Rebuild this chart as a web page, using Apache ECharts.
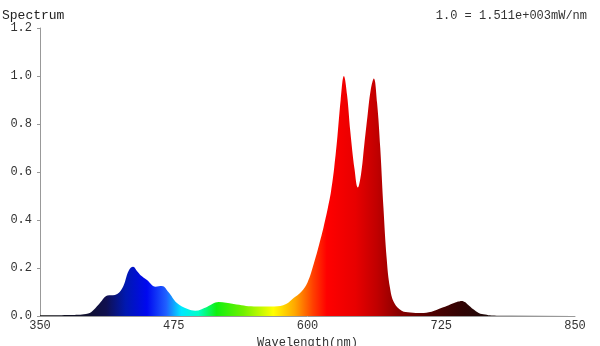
<!DOCTYPE html>
<html>
<head>
<meta charset="utf-8">
<script src="https://cdn.jsdelivr.net/npm/echarts@6/dist/echarts.min.js"></script>
<style>
  html, body { margin: 0; padding: 0; background: #fff; }
  #chart { width: 600px; height: 346px; }
</style>
</head>
<body>
<div id="chart"></div>
<script>
// wavelength (nm) and relative spectrum
const wavelength = [350, 380, 395, 400, 406, 413, 420, 427, 433, 437, 441, 444, 450, 458, 464, 470, 478, 488, 495, 506,
  517, 531, 550, 569, 580, 587, 594, 600, 606, 611, 615, 619, 622, 625, 628, 631, 634, 637, 640, 644, 647, 650, 653,
  656, 659, 662, 665, 668, 671, 674, 677, 681, 688, 696, 706, 716, 725, 732, 737, 741, 744, 747, 750, 755, 760, 766,
  772, 790, 850]
const spectrum = [0.003, 0.004, 0.01, 0.025, 0.054, 0.085, 0.088, 0.117, 0.19, 0.205, 0.185, 0.17, 0.15, 0.122, 0.125,
  0.1, 0.054, 0.029, 0.022, 0.038, 0.058, 0.05, 0.04, 0.04, 0.05, 0.075, 0.1, 0.14, 0.22, 0.3, 0.37, 0.45, 0.52, 0.62,
  0.75, 0.9, 1.0, 0.92, 0.77, 0.61, 0.535, 0.59, 0.71, 0.83, 0.94, 0.99, 0.89, 0.7, 0.45, 0.24, 0.12, 0.055, 0.022,
  0.015, 0.013, 0.018, 0.033, 0.045, 0.054, 0.06, 0.063, 0.058, 0.047, 0.028, 0.013, 0.006, 0.002, 0.001, 0.001]

const xTicks = [350, 475, 600, 725, 850]
const yTicks = [0, 0.2, 0.4, 0.6, 0.8, 1.0, 1.2]

// 波长对应颜色
const colorStops = [
  [350, '#101010'], [395, '#101030'], [412, '#101050'], [430, '#0018b0'], [450, '#0008f0'],
  [468, '#2060ff'], [482, '#00e8ff'], [498, '#00ffc8'], [515, '#10f010'], [540, '#70f000'],
  [568, '#ffff00'], [588, '#ffa800'], [605, '#ff4000'], [618, '#ff0000'], [645, '#e80000'],
  [665, '#c00000'], [685, '#8a0000'], [715, '#500000'], [745, '#300404'], [790, '#101010'], [850, '#101010']
]

const font = 'Liberation Mono, Courier New, monospace'
const fill = new echarts.graphic.LinearGradient(0, 0, 1, 0,
  colorStops.map((s) => ({ offset: (s[0] - 350) / 500, color: s[1] })))

const chart = echarts.init(document.getElementById('chart'))
chart.setOption({
  animation: false,
  title: {
    text: 'Spectrum',
    left: -3,
    top: 4,
    textStyle: { fontFamily: font, fontSize: 13, fontWeight: 'normal', color: '#222' }
  },
  graphic: [
    {
      type: 'text',
      right: 13,
      top: 10,
      style: { text: '1.0 = 1.511e+003mW/nm', font: '12px ' + font, fill: '#333' }
    }
  ],
  grid: { left: 40, right: 25, top: 28, bottom: 30, containLabel: false, outerBoundsMode: 'none' },
  xAxis: {
    type: 'value',
    min: 350,
    max: 850,
    interval: 125,
    name: 'Wavelength(nm)',
    nameLocation: 'middle',
    nameGap: 21,
    nameTextStyle: { fontFamily: font, fontSize: 12, color: '#333' },
    axisLine: { lineStyle: { color: '#999' } },
    axisTick: { show: false },
    splitLine: { show: false },
    axisLabel: {
      fontFamily: font, fontSize: 12, color: '#333', margin: 4,
      formatter: (v) => (xTicks.includes(v) ? String(v) : '')
    }
  },
  yAxis: {
    type: 'value',
    min: 0,
    max: 1.2,
    interval: 0.2,
    axisLine: { show: true, lineStyle: { color: '#999' } },
    axisTick: { show: true, length: 3, lineStyle: { color: '#999' } },
    splitLine: { show: false },
    axisLabel: {
      fontFamily: font, fontSize: 12, color: '#333', margin: 8,
      formatter: (v) => (yTicks.some((t) => Math.abs(t - v) < 1e-6) ? v.toFixed(1) : '')
    }
  },
  series: [
    {
      type: 'line',
      data: wavelength.map((w, i) => [w, spectrum[i]]),
      smooth: 0.4,
      showSymbol: false,
      lineStyle: { width: 0 },
      areaStyle: { color: fill, opacity: 1 }
    }
  ]
})
</script>
</body>
</html>
